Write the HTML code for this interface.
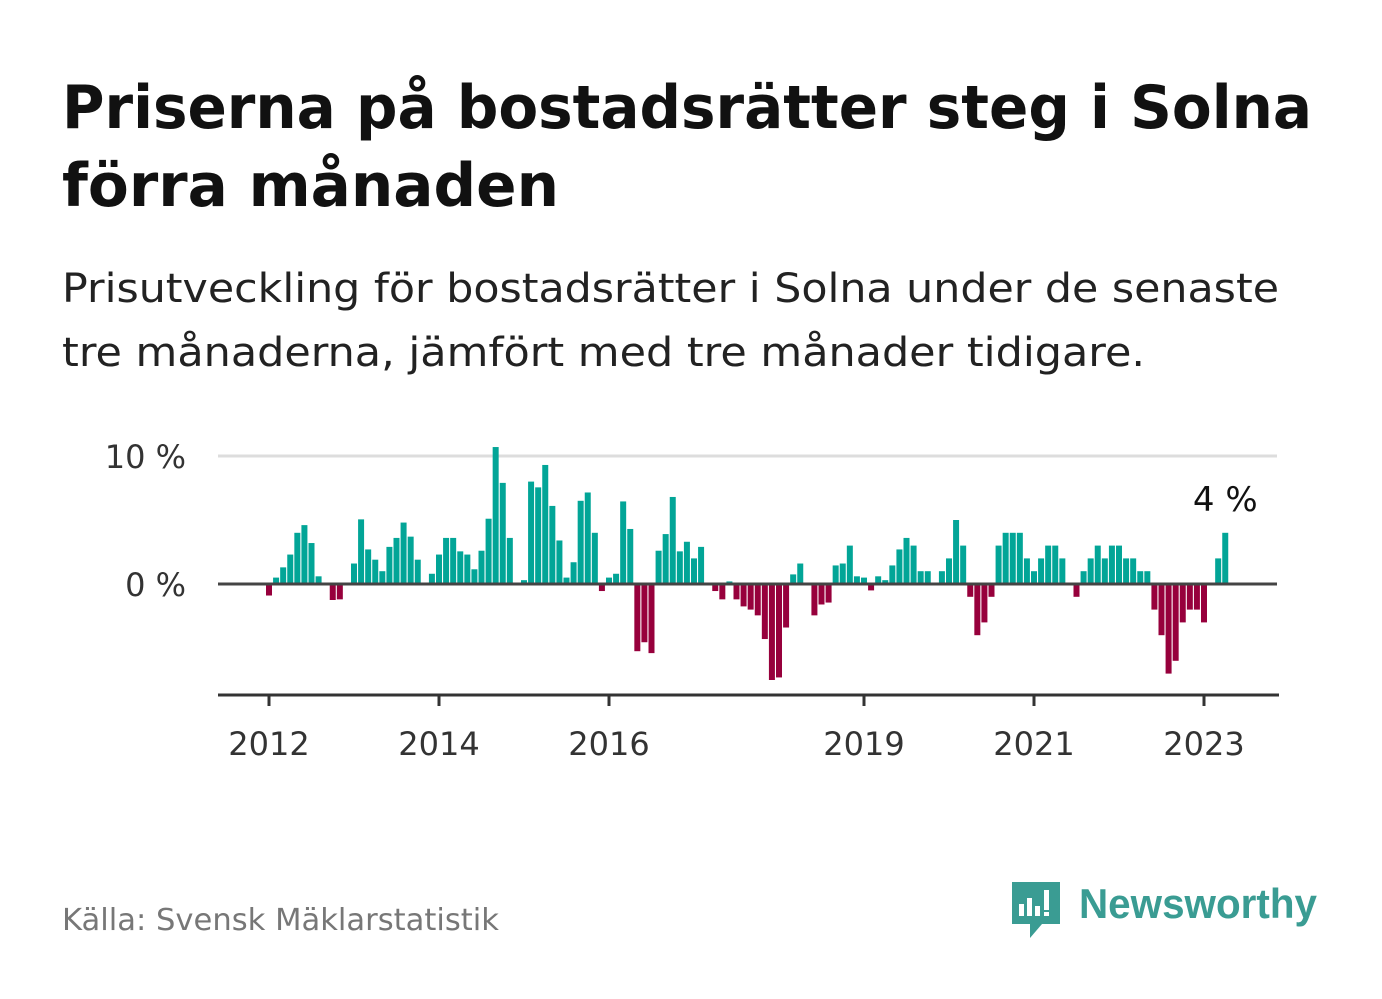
<!DOCTYPE html>
<html><head><meta charset="utf-8">
<style>
body{margin:0;background:#fff;}
svg{display:block;font-family:"DejaVu Sans","Liberation Sans",sans-serif;}
</style></head>
<body>
<svg id="chart" width="1382" height="999" viewBox="0 0 1382 999">
<text x="62" y="128" font-size="60" font-weight="bold" fill="#111" textLength="1250" lengthAdjust="spacingAndGlyphs">Priserna på bostadsrätter steg i Solna</text>
<text x="62" y="206" font-size="60" font-weight="bold" fill="#111" textLength="497" lengthAdjust="spacingAndGlyphs">förra månaden</text>
<text x="62" y="302" font-size="40" fill="#222" textLength="1217" lengthAdjust="spacingAndGlyphs">Prisutveckling för bostadsrätter i Solna under de senaste</text>
<text x="62" y="366" font-size="40" fill="#222" textLength="1083" lengthAdjust="spacingAndGlyphs">tre månaderna, jämfört med tre månader tidigare.</text>
<g id="plot"></g>
<text x="62" y="930" font-size="30" fill="#777" textLength="437" lengthAdjust="spacingAndGlyphs">Källa: Svensk Mäklarstatistik</text>
<g>
<path d="M1012 882 h48 v42 h-18 l-12 14 v-14 h-18 z" fill="#3a9c93"/>
<rect x="1019" y="904" width="5" height="12" fill="#fff"/>
<rect x="1027" y="898" width="5" height="18" fill="#fff"/>
<rect x="1035" y="906" width="5" height="10" fill="#fff"/>
<rect x="1044" y="890" width="5" height="20" fill="#fff"/>
<rect x="1044" y="912" width="5" height="4" fill="#fff"/>
<text x="1079" y="918" font-size="42" font-weight="bold" fill="#3a9c93" font-family="Liberation Sans, sans-serif" textLength="238" lengthAdjust="spacingAndGlyphs">Newsworthy</text>
</g>
</svg>
<script>
const values = [-0.9,0.5,1.3,2.3,4.0,4.6,3.2,0.6,0,-1.25,-1.2,0,
1.6,5.05,2.7,1.9,1.0,2.9,3.6,4.8,3.7,1.9,0,0.8,
2.3,3.6,3.6,2.55,2.3,1.15,2.6,5.1,10.7,7.9,3.6,0,
0.3,8.0,7.55,9.3,6.1,3.4,0.5,1.7,6.5,7.15,4.0,-0.55,
0.5,0.8,6.45,4.3,-5.25,-4.55,-5.4,2.6,3.9,6.8,2.55,3.3,
2.0,2.9,0,-0.55,-1.2,0.2,-1.2,-1.75,-2.0,-2.45,-4.3,-7.5,
-7.3,-3.4,0.75,1.6,0,-2.45,-1.6,-1.45,1.45,1.6,3.0,0.6,
0.5,-0.5,0.6,0.3,1.45,2.7,3.6,3.0,1.0,1.0,0,1.0,
2,5,3,-1,-4,-3,-1,3,4,4,4,2,
1,2,3,3,2,0,-1,1,2,3,2,3,
3,2,2,1,1,-2,-4,-7,-6,-3,-2,-2,
-3,0,2,4];
const startYear = 2012;
const yTicks = [0,10];
const yTickLabels = ["0 %","10 %"];
const xTickYears = [2012,2014,2016,2019,2021,2023];
const lastLabel = "4 %";

const NS="http://www.w3.org/2000/svg";
const g=document.getElementById('plot');
const X0=269, PXM=85/12, Y0=584, PXP=12.8, L=218, R=1277;
const xs=i=>X0+PXM*i;
const ys=v=>Y0-v*PXP;
function mk(t,a){const e=document.createElementNS(NS,t);for(const k in a)e.setAttribute(k,a[k]);g.appendChild(e);return e;}
yTicks.forEach((t,k)=>{
  if(t!==0){const l=mk('line',{x1:L,x2:R,y1:ys(t),y2:ys(t),stroke:'#ddd','stroke-width':3});
  
  }
  const tx=mk('text',{x:186,y:ys(t)+12,'text-anchor':'end','font-size':32,fill:'#333'});
  tx.textContent=yTickLabels[k];
  
  
});
values.forEach((v,i)=>{
  if(v===0)return;
  const y=v>0?ys(v):Y0;
  const r=mk('rect',{x:xs(i)-3,y:y,width:6,height:Math.abs(v)*PXP,fill:v>0?'#02a597':'#97003c'});
  
  
});
const z=mk('line',{x1:L,x2:R,y1:Y0,y2:Y0,stroke:'#444','stroke-width':3});


const ax=mk('line',{x1:L,x2:1279,y1:695,y2:695,stroke:'#333','stroke-width':3});


xTickYears.forEach(yr=>{
  const x=xs((yr-startYear)*12);
  const t=mk('line',{x1:x,x2:x,y1:695,y2:706,stroke:'#333','stroke-width':3});
  
  
  const tx=mk('text',{x:x,y:755,'text-anchor':'middle','font-size':32,fill:'#333'});
  tx.textContent=yr;
  
  
});
const li=values.length-1;
const lt=mk('text',{x:xs(li),y:ys(values[li])-22,'text-anchor':'middle','font-size':34,fill:'#111'});
lt.textContent=lastLabel;


</script>
</body></html>
